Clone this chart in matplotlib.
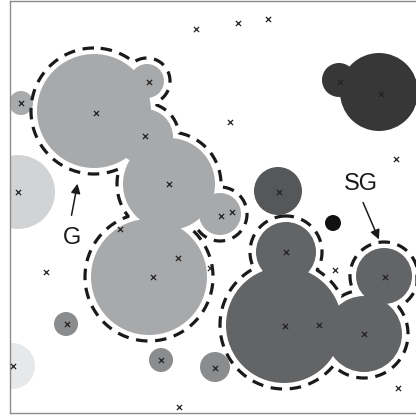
import numpy as np
import matplotlib
matplotlib.use("Agg")
import matplotlib.pyplot as plt
from matplotlib.patches import Circle

# ---- data (image pixel coordinates) ----
# group G (light gray)
g_x = [94, 147, 145, 169, 220, 149]
g_y = [111, 81, 137, 184, 214, 277]
g_r = [57, 17, 28, 46, 21, 58]
# group SG (dark gray)
sg_x = [286, 284, 364, 384]
sg_y = [252, 325, 334, 276]
sg_r = [30, 58, 38, 28]
# other circles
oth_x = [18, 21, 12, 66, 161, 215, 278, 333, 379, 339]
oth_y = [192, 103, 366, 324, 360, 367, 191, 223, 92, 80]
oth_r = [37, 12, 23, 12, 12, 15, 24, 8, 39, 17]
oth_c = ['#d2d3d5', '#a9aaac', '#e7e8e9', '#8b8c8e', '#8b8c8e', '#8b8c8e',
         '#565759', '#111111', '#373737', '#373737']
# cross markers
mk_x = [96, 149, 145, 169, 221, 232, 120, 153, 178, 210, 21, 18, 13, 67, 161,
        215, 279, 286, 285, 319, 364, 385, 340, 381, 196, 238, 268, 230, 396,
        46, 179, 335, 398]
mk_y = [113, 82, 136, 184, 216, 212, 229, 277, 258, 268, 103, 192, 366, 324,
        360, 368, 192, 252, 326, 325, 334, 277, 82, 94, 29, 23, 19, 122, 159,
        272, 407, 270, 388]

G_COLOR = '#a8a9ab'
SG_COLOR = '#636466'

W, H = 416, 417
fig = plt.figure(figsize=(W / 100, H / 100), dpi=100)
x0, x1 = 10, 420
y0, y1 = 0.5, 413
ax = fig.add_axes([x0 / W, (H - y1) / H, (x1 - x0) / W, (y1 - y0) / H])
ax.set_xlim(x0, x1)
ax.set_ylim(y1, y0)
ax.set_xticks([])
ax.set_yticks([])
for s in ax.spines.values():
    s.set_color('#8c8c8c')
    s.set_linewidth(1.0)

for cx, cy, r in zip(g_x, g_y, g_r):
    ax.add_patch(Circle((cx, cy), r, color=G_COLOR, lw=0, zorder=2))
for cx, cy, r in zip(sg_x, sg_y, sg_r):
    ax.add_patch(Circle((cx, cy), r, color=SG_COLOR, lw=0, zorder=2))
for cx, cy, r, c in zip(oth_x, oth_y, oth_r, oth_c):
    ax.add_patch(Circle((cx, cy), r, color=c, lw=0, zorder=2))

# dashed outlines around the groups (offset union of circles)
gx = np.arange(-20, 460, 0.5)
gy = np.arange(-20, 450, 0.5)
X, Y = np.meshgrid(gx, gy)
offset = 6
for xs, ys, rs in [(g_x, g_y, g_r), (sg_x, sg_y, sg_r)]:
    d = np.full(X.shape, np.inf)
    for cx, cy, r in zip(xs, ys, rs):
        d = np.minimum(d, np.hypot(X - cx, Y - cy) - r)
    ax.contour(X, Y, d, levels=[offset], colors='#1a1a1a', linewidths=2.3,
               linestyles=[(0, (3.6, 2.4))], zorder=3)

ax.scatter(mk_x, mk_y, marker='x', s=14, c='#222222', linewidths=0.9, zorder=5)

# labels and arrows
font = ['Liberation Sans', 'DejaVu Sans']
ax.text(72, 238, 'G', fontsize=17, family=font, ha='center', va='center',
        color='#1a1a1a', zorder=6)
ax.annotate('', xy=(78, 181), xytext=(71, 218),
            arrowprops=dict(arrowstyle='-|>', color='#1a1a1a', lw=1.1,
                            mutation_scale=14), zorder=6)
ax.text(361, 184, 'SG', fontsize=17, family=font, ha='center', va='center',
        color='#1a1a1a', zorder=6)
ax.annotate('', xy=(380, 242), xytext=(362, 200),
            arrowprops=dict(arrowstyle='-|>', color='#1a1a1a', lw=1.1,
                            mutation_scale=14), zorder=6)

fig.savefig('out.png', dpi=100)
